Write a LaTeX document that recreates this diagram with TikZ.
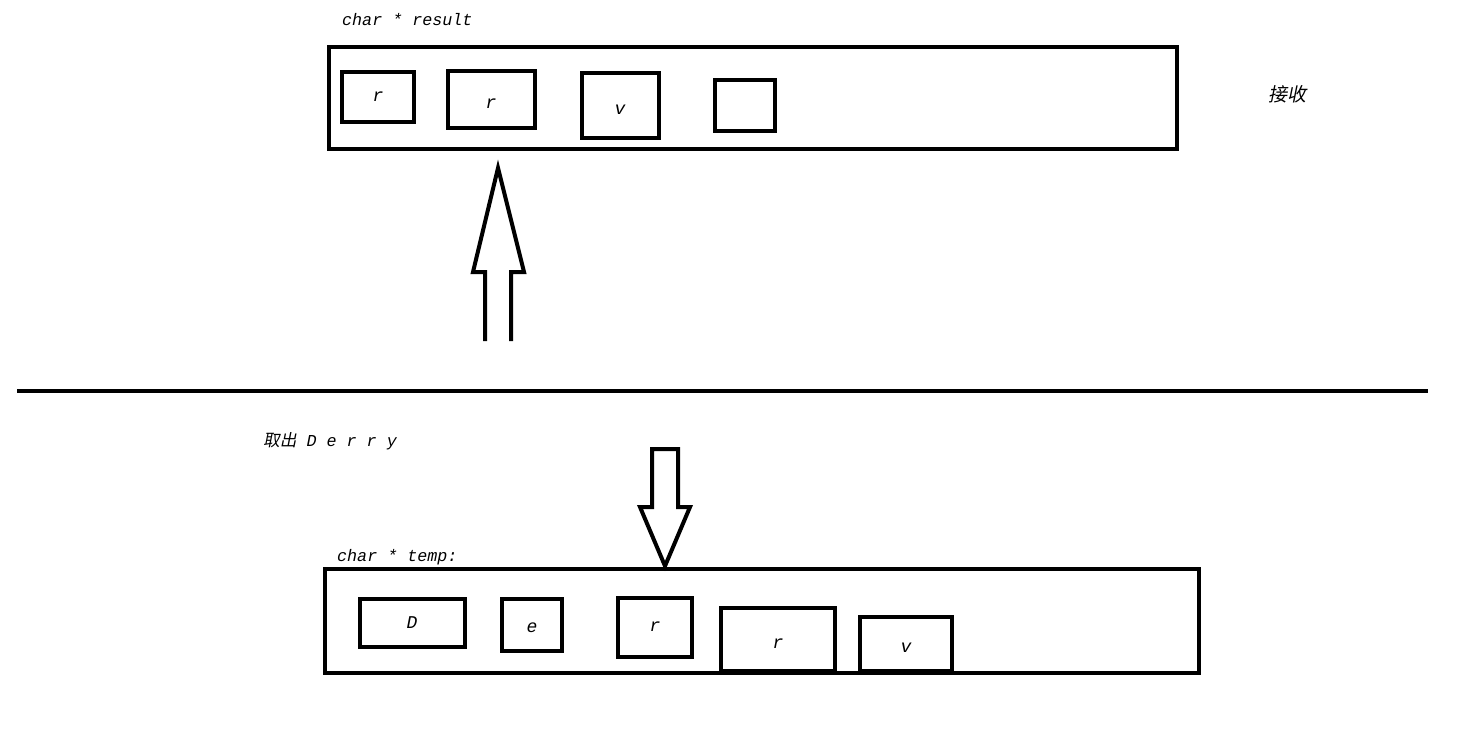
\documentclass[tikz,border=0pt]{standalone}
\usepackage{fontspec}
\setmonofont{Liberation Mono}
\newfontfamily\cjk[FakeSlant=0.2]{Noto Sans CJK SC}
\usetikzlibrary{positioning}

\begin{document}
\begin{tikzpicture}[x=1pt, y=-1pt,
  frame/.style={draw, line width=4pt, inner sep=0pt},
  cell/.style={draw, line width=4pt, inner sep=0pt, font=\ttfamily\itshape\fontsize{18}{20}\selectfont},
  caption/.style={inner sep=0pt, anchor=west, font=\ttfamily\itshape\fontsize{16.7}{20}\selectfont},
  fat/.style={line width=4pt, line join=miter}
]
\useasboundingbox (0,0) rectangle (1466,732);
% upper buffer
\node[caption] (resultname) at (342,20) {char * result};
\node[frame, minimum width=848pt, minimum height=102pt] (result) at (753,98) {};
\node[cell, minimum width=72pt, minimum height=50pt] (res1) at (378,97) {r};
\node[cell, minimum width=87pt, minimum height=57pt, text height=19pt] (res2) at (491,99) {r};
\node[cell, minimum width=77pt, minimum height=65pt, text height=19pt] (res3) at (620,105) {v};
\node[cell, minimum width=60pt, minimum height=51pt] (res4) at (745,105) {};
\node[caption, font=\cjk\fontsize{19}{22}\selectfont] (recv) at (1268,94) {接收};
% up arrow
\draw[fat] (485,341) -- (485,272) -- (473,272) -- (498,168) -- (524,272) -- (511,272) -- (511,341);
% separator
\draw[fat] (17,391) -- (1428,391);
\node[caption] (take) at (263,441) {{\cjk 取出} D e r r y};
% lower buffer
\node[caption] (tempname) at (337,557) {char * temp:};
\node[frame, minimum width=874pt, minimum height=104pt] (temp) at (762,621) {};
\node[cell, minimum width=105pt, minimum height=48pt] (tmp1) at (412,623) {D};
\node[cell, minimum width=60pt, minimum height=52pt, text height=15pt] (tmp2) at (532,625) {e};
\node[cell, minimum width=74pt, minimum height=59pt] (tmp3) at (655,627) {r};
\node[cell, minimum width=114pt, minimum height=63pt, text height=19pt] (tmp4) at (778,639) {r};
\node[cell, minimum width=92pt, minimum height=54pt, text height=17pt] (tmp5) at (906,644) {v};
% down arrow
\draw[fat] (652,449) -- (678,449) -- (678,507) -- (690,507) -- (665,566) -- (640,507) -- (652,507) -- cycle;
\end{tikzpicture}
\end{document}
